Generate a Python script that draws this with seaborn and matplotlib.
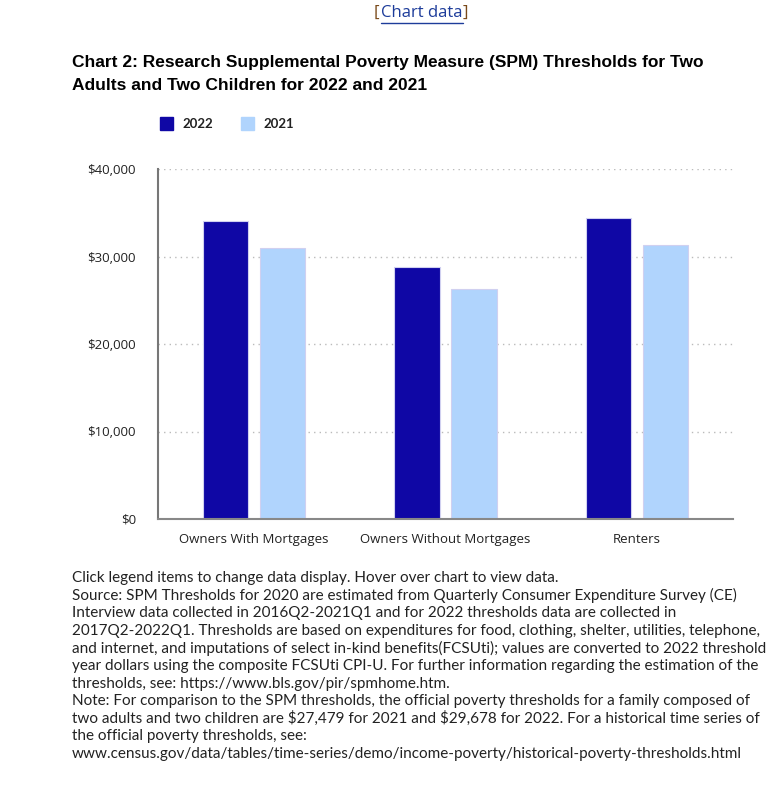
import pandas as pd
import matplotlib.pyplot as plt
import seaborn as sns

categories = ["Owners With Mortgages", "Owners Without Mortgages", "Renters"]
years = ["2022", "2021"]
values_2022 = [34100, 28800, 34450]
values_2021 = [31000, 26250, 31300]
y_ticks = [0, 10000, 20000, 30000, 40000]

TITLE = ("Chart 2: Research Supplemental Poverty Measure (SPM) Thresholds for Two\n"
         "Adults and Two Children for 2022 and 2021")
FOOTER = [
    "Click legend items to change data display. Hover over chart to view data.",
    "Source: SPM Thresholds for 2020 are estimated from Quarterly Consumer Expenditure Survey (CE)",
    "Interview data collected in 2016Q2-2021Q1 and for 2022 thresholds data are collected in",
    "2017Q2-2022Q1. Thresholds are based on expenditures for food, clothing, shelter, utilities, telephone,",
    "and internet, and imputations of select in-kind benefits(FCSUti); values are converted to 2022 threshold",
    "year dollars using the composite FCSUti CPI-U. For further information regarding the estimation of the",
    "thresholds, see: https://www.bls.gov/pir/spmhome.htm.",
    "Note: For comparison to the SPM thresholds, the official poverty thresholds for a family composed of",
    "two adults and two children are \\$27,479 for 2021 and \\$29,678 for 2022. For a historical time series of",
    "the official poverty thresholds, see:",
    "www.census.gov/data/tables/time-series/demo/income-poverty/historical-poverty-thresholds.html",
]

COLORS = {"2022": "#0f07a5", "2021": "#b0d4fd"}


def build_frame():
    rows = []
    for cat, v22, v21 in zip(categories, values_2022, values_2021):
        rows.append({"Category": cat, "Year": "2022", "Value": v22})
        rows.append({"Category": cat, "Year": "2021", "Value": v21})
    return pd.DataFrame(rows)


df = build_frame()

sns.set_style("white")
plt.rcParams["font.family"] = ["Lato", "DejaVu Sans"]

W, H = 781, 791
fig = plt.figure(figsize=(W / 100, H / 100), dpi=100)
ax = fig.add_axes([158 / W, 1 - 519 / H, 575 / W, 350 / H])

sns.barplot(data=df, x="Category", y="Value", hue="Year", hue_order=years,
            order=categories, palette=COLORS, saturation=1, width=0.595,
            gap=0.21, edgecolor="#d0d0f0", linewidth=0.8, legend=False, ax=ax)

ax.set_ylim(0, 40000)
ax.set_xlim(-0.5, 2.5)
ax.set_yticks(y_ticks)
ax.set_yticklabels([f"${v:,.0f}" for v in y_ticks], fontsize=9.5, color="#222222")
ax.tick_params(axis="y", length=10, width=1.5, color="#ccd6eb", pad=6)
ax.tick_params(axis="x", length=0, pad=10, labelsize=9.5, labelcolor="#222222")
ax.set_xlabel("")
ax.set_ylabel("")
for t in ax.get_yticklabels() + ax.get_xticklabels():
    t.set_family(["Open Sans", "DejaVu Sans"])

ax.yaxis.grid(True, linestyle=(0, (1, 3)), color="#bbbbbb", linewidth=1)
ax.set_axisbelow(True)
for side in ["top", "right"]:
    ax.spines[side].set_visible(False)
ax.spines["left"].set_color("#777777")
ax.spines["left"].set_linewidth(1.5)
ax.spines["bottom"].set_color("#888888")
ax.spines["bottom"].set_linewidth(1.5)

# title
fig.text(72 / W, 1 - 55 / H, TITLE, ha="left", va="top", fontsize=12.5,
         fontweight="bold", family=["Liberation Sans", "DejaVu Sans"],
         linespacing=1.65, color="#000000")

# legend
for x0, yr in [(160, "2022"), (241, "2021")]:
    fig.patches.append(plt.Rectangle((x0 / W, 1 - 130 / H), 13 / W, 13 / H,
                                     transform=fig.transFigure,
                                     color=COLORS[yr]))
    fig.text((x0 + 22) / W, 1 - 124 / H, yr, ha="left", va="center",
             fontsize=9.5, fontweight="bold", color="#222222")

# chart data link
link_font = ["Open Sans", "DejaVu Sans"]
fig.text(374 / W, 1 - 13 / H, "[", ha="left", va="center", fontsize=12,
         color="#7a4a1a", family=link_font)
fig.text(381 / W, 1 - 13 / H, "Chart data", ha="left", va="center", fontsize=12,
         color="#1d3c9a", family=link_font)
fig.text(463 / W, 1 - 13 / H, "]", ha="left", va="center", fontsize=12,
         color="#7a4a1a", family=link_font)
fig.lines.append(plt.Line2D([381 / W, 463 / W], [1 - 23 / H, 1 - 23 / H],
                            transform=fig.transFigure, color="#1d3c9a", lw=1))

# footer
for i, line in enumerate(FOOTER):
    fig.text(72 / W, 1 - (578 + i * 17.6) / H, line, ha="left", va="center",
             fontsize=11, color="#222222")

fig.savefig("out.png", dpi=100)
